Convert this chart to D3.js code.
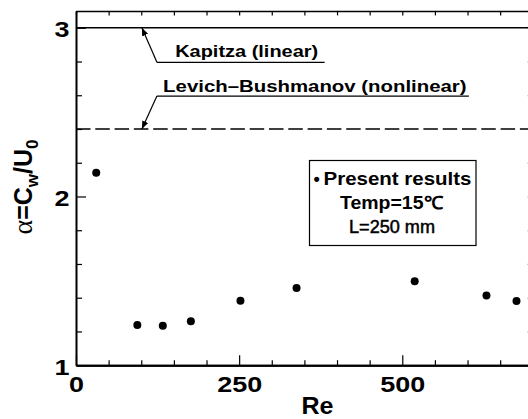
<!DOCTYPE html>
<html>
<head>
<meta charset="utf-8">
<script src="https://cdn.jsdelivr.net/npm/d3@7"></script>
<style>
  body { margin: 0; background: #fff; }
  svg { display: block; }
  text { font-family: "Liberation Sans", Arial, Helvetica, sans-serif; fill: #000; }
</style>
</head>
<body>
<svg id="chart" width="528" height="419"></svg>
<script>
// Measured wave celerity ratio against Reynolds number
const reynolds = [31, 94, 133, 176, 252, 338, 519, 629, 675];
const alpha    = [2.14, 1.238, 1.234, 1.261, 1.382, 1.457, 1.498, 1.413, 1.38];

// Theoretical reference levels
const kapitzaAlpha = 3.0;
const levichAlpha  = 2.4;

// Axis ticks
const xMajorTicks = [0, 250, 500];
const xMinorTicks = [50, 100, 150, 200, 300, 350, 400, 450, 550, 600, 650, 700];
const yMajorTicks = [1, 2, 3];
const yMinorTicks = [1.2, 1.4, 1.6, 1.8, 2.2, 2.4, 2.6, 2.8];
const xAllTicks = xMajorTicks.concat(xMinorTicks);
const yAllTicks = yMajorTicks.concat(yMinorTicks);

// Text
const kapitzaLabel = "Kapitza (linear)";
const levichLabel  = "Levich\u2013Bushmanov (nonlinear)";
const legendLines  = ["Present results", "Temp=15\u2103", "L=250 mm"];
const xTitle = "Re";

const svg = d3.select("#chart");
const x = d3.scaleLinear().domain([0, 700]).range([76, 532.8]);
const y = d3.scaleLinear().domain([1, 3.1]).range([365.2, 10.9]);
const intFormat = d3.format("d");

const digitWidth = 15;
function stretchDigits(sel, size) {
  sel.selectAll(".tick text")
    .attr("font-size", size)
    .attr("font-weight", "bold")
    .attr("font-family", "Liberation Sans, Arial, sans-serif")
    .attr("fill", "#000")
    .attr("lengthAdjust", "spacingAndGlyphs")
    .attr("textLength", d => intFormat(d).length * digitWidth);
}
function styleAxis(g, w) {
  g.select(".domain").attr("stroke", "#000").attr("stroke-width", w);
  g.selectAll(".tick line").attr("stroke", "#000").attr("stroke-width", 1.2);
}

// Top and right frame edges, ticks pointing inward
const gTop = svg.append("g").attr("transform", `translate(0,${y(3.1)})`)
  .call(d3.axisTop(x).tickValues(xAllTicks).tickSize(-4.5).tickSizeOuter(0).tickFormat(""));
styleAxis(gTop, 1.5);
const gRight = svg.append("g").attr("transform", `translate(${x(700)},0)`)
  .call(d3.axisRight(y).tickValues(yAllTicks).tickSize(-5).tickSizeOuter(0).tickFormat(""));
styleAxis(gRight, 1.5);

// Bottom axis
const gBottomMinor = svg.append("g").attr("transform", `translate(0,${y(1)})`)
  .call(d3.axisBottom(x).tickValues(xMinorTicks).tickSize(-5).tickSizeOuter(0).tickFormat(""));
styleAxis(gBottomMinor, 2);
const gBottom = svg.append("g").attr("transform", `translate(0,${y(1)})`)
  .call(d3.axisBottom(x).tickValues(xMajorTicks).tickSize(-10).tickSizeOuter(0)
    .tickPadding(11.5).tickFormat(intFormat));
styleAxis(gBottom, 2);
stretchDigits(gBottom, 22);

// Left axis
const gLeftMinor = svg.append("g").attr("transform", `translate(${x(0)},0)`)
  .call(d3.axisLeft(y).tickValues(yMinorTicks).tickSize(-6).tickSizeOuter(0).tickFormat(""));
styleAxis(gLeftMinor, 1.6);
const gLeft = svg.append("g").attr("transform", `translate(${x(0)},0)`)
  .call(d3.axisLeft(y).tickValues(yMajorTicks).tickSize(-10).tickSizeOuter(0)
    .tickPadding(6.5).tickFormat(intFormat));
styleAxis(gLeft, 1.6);
stretchDigits(gLeft, 22);
gLeft.selectAll(".tick text").attr("dy", "0.4em");

// Reference lines
svg.append("line")
  .attr("x1", x(0)).attr("x2", x(700))
  .attr("y1", y(kapitzaAlpha)).attr("y2", y(kapitzaAlpha))
  .attr("stroke", "#000").attr("stroke-width", 1.4);
svg.append("line")
  .attr("x1", x(0)).attr("x2", x(700))
  .attr("y1", y(levichAlpha)).attr("y2", y(levichAlpha))
  .attr("stroke", "#000").attr("stroke-width", 1.4)
  .attr("stroke-dasharray", "14.5,4.8");

// Arrowhead marker
svg.append("defs").append("marker")
  .attr("id", "head").attr("viewBox", "0 0 10 10")
  .attr("refX", 10).attr("refY", 5)
  .attr("markerWidth", 8).attr("markerHeight", 8)
  .attr("markerUnits", "userSpaceOnUse")
  .attr("orient", "auto")
  .append("path").attr("d", "M0,1 L10,5 L0,9 Z").attr("fill", "#000");

// Annotations: leader start (Re, alpha), underline end Re, text start Re
const notes = [
  { text: kapitzaLabel, level: kapitzaAlpha, lead: [124, 2.795], tip: 101, end: 381, textRe: 152, width: 143, lift: 5 },
  { text: levichLabel,  level: levichAlpha,  lead: [124, 2.595], tip: 101, end: 602, textRe: 133.5, width: 303.5, lift: 4 }
];
notes.forEach(n => {
  svg.append("line")
    .attr("x1", x(n.lead[0])).attr("y1", y(n.lead[1]))
    .attr("x2", x(n.tip)).attr("y2", y(n.level))
    .attr("stroke", "#000").attr("stroke-width", 1.2)
    .attr("marker-end", "url(#head)");
  svg.append("line")
    .attr("x1", x(n.lead[0])).attr("y1", y(n.lead[1]))
    .attr("x2", x(n.end)).attr("y2", y(n.lead[1]))
    .attr("stroke", "#000").attr("stroke-width", 1.2);
  svg.append("text")
    .attr("x", x(n.textRe)).attr("y", y(n.lead[1]) - n.lift)
    .attr("font-size", 17).attr("font-weight", "bold")
    .attr("lengthAdjust", "spacingAndGlyphs").attr("textLength", n.width)
    .text(n.text);
});

// Data points
svg.append("g").selectAll("circle")
  .data(reynolds.map((r, i) => [r, alpha[i]]))
  .join("circle")
  .attr("cx", d => x(d[0])).attr("cy", d => y(d[1]))
  .attr("r", 4).attr("fill", "#000");

// Legend box
svg.append("rect")
  .attr("x", 309.5).attr("y", 160.5).attr("width", 166.5).attr("height", 85)
  .attr("fill", "#fff").attr("stroke", "#000").attr("stroke-width", 1.2);
svg.append("text").attr("x", 313.5).attr("y", 185)
  .attr("font-size", 18).attr("font-weight", "bold").text("\u2022");
const legendSpec = [
  { x: 323.5, y: 185,   w: 148, weight: "bold" },
  { x: 340,   y: 208.5, w: 103, weight: "bold" },
  { x: 349,   y: 232.5, w: 86,  weight: "normal" }
];
legendLines.forEach((t, i) => {
  const s = legendSpec[i];
  svg.append("text")
    .attr("x", s.x).attr("y", s.y)
    .attr("font-size", 18).attr("font-weight", s.weight)
    .attr("stroke", s.weight === "normal" ? "#000" : "none").attr("stroke-width", 0.5)
    .attr("lengthAdjust", "spacingAndGlyphs").attr("textLength", s.w)
    .text(t);
});

// Axis titles
svg.append("text")
  .attr("x", 301.5).attr("y", 413.5)
  .attr("font-size", 23).attr("font-weight", "bold")
  .attr("lengthAdjust", "spacingAndGlyphs").attr("textLength", 32)
  .text(xTitle);

const yTitle = svg.append("text")
  .attr("transform", "translate(32,187) rotate(-90)")
  .attr("text-anchor", "middle")
  .attr("font-size", 25).attr("font-weight", "bold");
yTitle.append("tspan").attr("font-family", "Liberation Serif, DejaVu Serif, serif")
  .attr("font-weight", "normal").attr("font-size", 28).text("\u03B1");
yTitle.append("tspan").text("=C");
yTitle.append("tspan").attr("font-size", 17).attr("dy", 6).text("w");
yTitle.append("tspan").attr("dy", -6).text("/U");
yTitle.append("tspan").attr("font-size", 17).attr("dy", 6).text("0");
</script>
</body>
</html>
